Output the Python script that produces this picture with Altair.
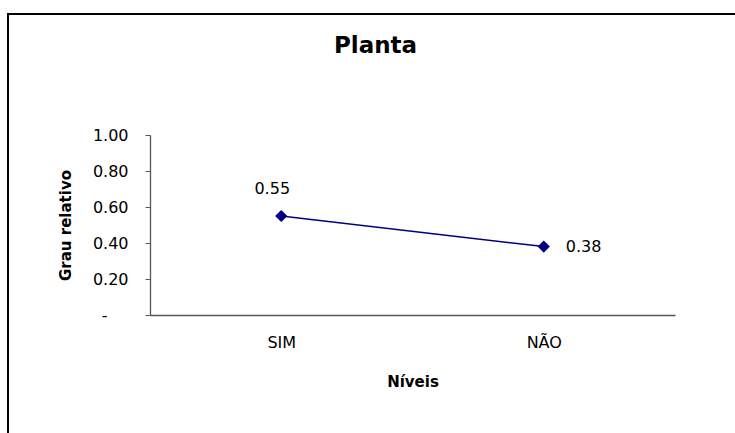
import altair as alt
import pandas as pd

categories = ["SIM", "NÃO"]
values = [0.55, 0.38]
y_ticks = [0.0, 0.2, 0.4, 0.6, 0.8, 1.0]

df = pd.DataFrame({"Nivel": categories, "Grau": values})
FONT = "DejaVu Sans"

base = alt.Chart(df)

x_enc = alt.X(
    "Nivel:N", sort=categories, title="Níveis",
    scale=alt.Scale(paddingInner=0, paddingOuter=0),
    axis=alt.Axis(labelAngle=0, ticks=False, labelPadding=19, labelFontSize=16,
                  labelFont=FONT, labelColor="#000", titleFont=FONT, titleFontSize=15,
                  titleFontWeight="bold", titleY=71, titleBaseline="alphabetic",
                  domainColor="#555", domainWidth=1.3, grid=False),
)
y_enc = alt.Y(
    "Grau:Q", title="Grau relativo",
    scale=alt.Scale(domain=[0, 1], nice=False),
    axis=alt.Axis(values=y_ticks, tickCount=6,
                  labelExpr="datum.value == 0 ? '-' : format(datum.value, '.2f')",
                  labelOverlap=False, labelFlush=False,
                  tickSize=5, tickColor="#555", domainColor="#555", domainWidth=1.3,
                  labelPadding={"condition": {"test": "datum.value == 0", "value": 38}, "value": 17},
                  labelFontSize=16, labelFont=FONT, labelColor="#000",
                  titleFont=FONT, titleFontSize=15, titleFontWeight="bold",
                  titleX=-77, titleY=90, titleBaseline="bottom", grid=False),
)

line = base.mark_line(color="#000080", strokeWidth=1.5).encode(x=x_enc, y=y_enc)
pts = base.mark_point(shape="diamond", filled=True, size=150, color="#000080", opacity=1).encode(
    x=x_enc, y=y_enc)
lab1 = base.transform_filter(alt.datum.Nivel == "SIM").mark_text(
    font=FONT, fontSize=16, dx=-9, dy=-27, align="center", baseline="middle", color="#000"
).encode(x=x_enc, y=y_enc, text=alt.Text("Grau:Q", format=".2f"))
lab2 = base.transform_filter(alt.datum.Nivel == "NÃO").mark_text(
    font=FONT, fontSize=16, dx=22, dy=0, align="left", baseline="middle", color="#000"
).encode(x=x_enc, y=y_enc, text=alt.Text("Grau:Q", format=".2f"))

frame = alt.Chart(pd.DataFrame({"f": [0]})).mark_rect(
    fill=None, stroke="#000", strokeWidth=2, clip=False
).encode(x=alt.value(-142), x2=alt.value(600), y=alt.value(-121), y2=alt.value(310))

chart = alt.layer(line, pts, lab1, lab2, frame).properties(
    width=525, height=180,
    title=alt.TitleParams("Planta", font=FONT, fontSize=23, fontWeight="bold",
                          anchor="middle", dx=-37, offset=-45, color="#000"),
    autosize=alt.AutoSizeParams(type="none"),
    padding={"left": 150, "top": 135, "right": 60, "bottom": 118},
    background="white",
).configure_view(strokeWidth=0, stroke=None)

chart.save("out.html", embed_options={"renderer": "svg", "actions": False})
